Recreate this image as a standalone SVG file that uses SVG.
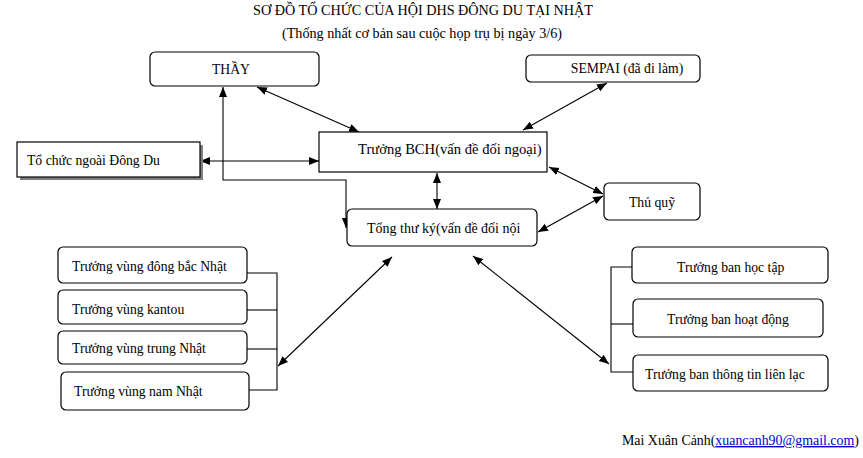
<svg xmlns="http://www.w3.org/2000/svg" width="863" height="458" viewBox="0 0 863 458">
<style>
text{font-family:"Liberation Serif","Times New Roman",serif;font-size:13.7px;fill:#000}
.t{font-size:14.2px}
.box{fill:#fff;stroke:#000;stroke-width:1.2}
.ln{fill:none;stroke:#000;stroke-width:1.1}
.link{fill:#00c}
</style>
<defs>
<marker id="ah" markerUnits="userSpaceOnUse" markerWidth="10" markerHeight="10" viewBox="0 0 10 10" refX="10" refY="5" orient="auto-start-reverse">
<path d="M0,1 L10,5 L0,9 Z" fill="#000"/>
</marker>
</defs>
<text x="423" y="15" text-anchor="middle" class="t">SƠ ĐỒ TỔ CHỨC CỦA HỘI DHS ĐÔNG DU TẠI NHẬT</text>
<text x="422" y="38" text-anchor="middle" class="t">(Thống nhất cơ bản sau cuộc họp trụ bị ngày 3/6)</text>

<g id="connectors">
<line class="ln" x1="200" y1="161" x2="319" y2="161" marker-start="url(#ah)" marker-end="url(#ah)"/>
<polyline class="ln" points="223,87 223,180 346,180 346,228" marker-start="url(#ah)" marker-end="url(#ah)"/>
<line class="ln" x1="257" y1="87" x2="359" y2="132" marker-start="url(#ah)" marker-end="url(#ah)"/>
<line class="ln" x1="607" y1="83" x2="523" y2="130" marker-start="url(#ah)" marker-end="url(#ah)"/>
<line class="ln" x1="437" y1="173" x2="437" y2="209" marker-start="url(#ah)" marker-end="url(#ah)"/>
<line class="ln" x1="549" y1="167" x2="603" y2="194" marker-start="url(#ah)" marker-end="url(#ah)"/>
<line class="ln" x1="538" y1="232" x2="603" y2="196" marker-start="url(#ah)" marker-end="url(#ah)"/>
<line class="ln" x1="392" y1="257" x2="278" y2="366" marker-start="url(#ah)" marker-end="url(#ah)"/>
<line class="ln" x1="473" y1="256" x2="609" y2="364" marker-start="url(#ah)" marker-end="url(#ah)"/>
<polyline class="ln" points="247,273 277,273 277,390 249,390"/>
<line class="ln" x1="247" y1="310" x2="277" y2="310"/>
<line class="ln" x1="247" y1="349" x2="277" y2="349"/>
<polyline class="ln" points="632,267 611,267 611,372 633,372"/>
<line class="ln" x1="611" y1="324" x2="633" y2="324"/>
</g>

<g id="thay">
<rect class="box" x="150" y="52" width="169" height="34" rx="5"/>
<text x="231" y="74" text-anchor="middle">THẦY</text>
</g>
<g id="sempai">
<rect class="box" x="526" y="55" width="174" height="27" rx="5"/>
<text x="627" y="73" text-anchor="middle">SEMPAI (đã đi làm)</text>
</g>
<g id="to-chuc-ngoai">
<rect x="20" y="145" width="183" height="35" fill="#808080"/>
<rect class="box" x="17" y="142" width="183" height="35"/>
<text x="27" y="165">Tổ chức ngoài Đông Du</text>
</g>
<g id="truong-bch">
<rect class="box" x="319" y="132" width="228" height="40"/>
<text x="358" y="154" style="font-size:14.6px">Trưởng BCH(vấn đề đối ngoại)</text>
</g>
<g id="thu-quy">
<rect class="box" x="604" y="183" width="96" height="37" rx="5"/>
<text x="652" y="207" text-anchor="middle">Thủ quỹ</text>
</g>
<g id="tong-thu-ky">
<rect class="box" x="347" y="209" width="190" height="37" rx="5"/>
<text x="367" y="233" style="font-size:14px">Tổng thư ký(vấn đề đối nội</text>
</g>

<g id="vung-dong-bac">
<rect class="box" x="58" y="247" width="189" height="36" rx="5"/>
<text x="72" y="271">Trưởng vùng đông bắc Nhật</text>
</g>
<g id="vung-kantou">
<rect class="box" x="58" y="290" width="189" height="34" rx="5"/>
<text x="72" y="314">Trưởng vùng kantou</text>
</g>
<g id="vung-trung">
<rect class="box" x="58" y="331" width="189" height="33" rx="5"/>
<text x="72" y="353">Trưởng vùng trung Nhật</text>
</g>
<g id="vung-nam">
<rect class="box" x="61" y="372" width="188" height="38" rx="5"/>
<text x="74" y="396">Trưởng vùng nam Nhật</text>
</g>

<g id="ban-hoc-tap">
<rect class="box" x="632" y="247" width="196" height="36" rx="5"/>
<text x="677" y="272">Trưởng ban học tập</text>
</g>
<g id="ban-hoat-dong">
<rect class="box" x="633" y="299" width="190" height="38" rx="5"/>
<text x="667" y="324">Trưởng ban hoạt động</text>
</g>
<g id="ban-thong-tin">
<rect class="box" x="633" y="355" width="195" height="36" rx="5"/>
<text x="645" y="379">Trưởng ban thông tin liên lạc</text>
</g>

<text x="622" y="445" style="font-size:13.9px">Mai Xuân Cảnh(<tspan class="link" text-decoration="underline">xuancanh90@gmail.com</tspan>)</text>
</svg>
